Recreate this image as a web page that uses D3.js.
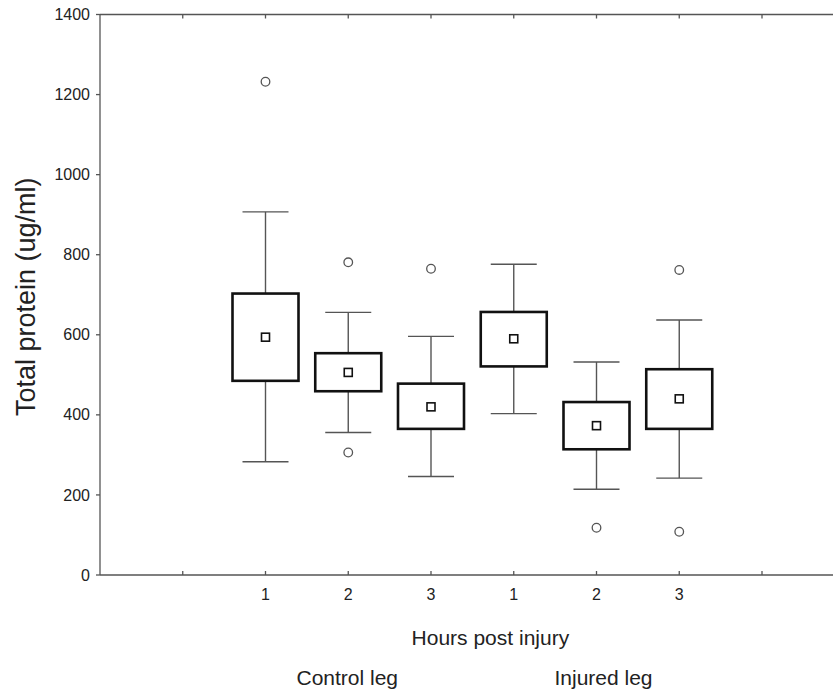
<!DOCTYPE html>
<html>
<head>
<meta charset="utf-8">
<script src="https://cdn.jsdelivr.net/npm/d3@7"></script>
<style>
body { margin: 0; background: #fff; }
svg { display: block; font-family: "Liberation Sans", Arial, sans-serif; }
</style>
</head>
<body>
<div id="graphDiv"></div>
<script>
// data
var hours = ["1", "2", "3", "1", "2", "3"];
var groups = ["Control leg", "Injured leg"];
var means = [594, 506, 420, 590, 373, 440];
var q1 = [485, 459, 365, 521, 314, 365];
var q3 = [703, 554, 478, 657, 432, 514];
var whiskLow = [283, 356, 246, 403, 214, 242];
var whiskHigh = [907, 656, 596, 776, 532, 637];
var outliers = [[1232], [781, 306], [765], [], [118], [762, 108]];
var yTicks = [0, 200, 400, 600, 800, 1000, 1200, 1400];

var W = 833, H = 694;
var plotLeft = 100, plotTop = 14.5, plotBottom = 575;

var svg = d3.select("#graphDiv")
  .append("svg")
  .attr("width", W)
  .attr("height", H);

// x: 9 slots, right frame edge falls past the image
var x = d3.scaleLinear().domain([0, 9]).range([plotLeft, plotLeft + 9 * 82.75]);
var y = d3.scaleLinear().domain([0, 1400]).range([plotBottom, plotTop]);

var axisColor = "#555";

// frame lines
svg.append("line").attr("x1", plotLeft).attr("x2", W).attr("y1", y(0)).attr("y2", y(0))
  .attr("stroke", axisColor).attr("stroke-width", 1.3);
svg.append("line").attr("x1", plotLeft).attr("x2", W).attr("y1", y(1400)).attr("y2", y(1400))
  .attr("stroke", axisColor).attr("stroke-width", 1.3);
svg.append("line").attr("x1", plotLeft).attr("x2", plotLeft).attr("y1", y(0)).attr("y2", y(1400))
  .attr("stroke", axisColor).attr("stroke-width", 1.3);

// y ticks (outward) and labels
svg.selectAll(".ytick").data(yTicks).enter().append("line")
  .attr("x1", plotLeft - 4).attr("x2", plotLeft)
  .attr("y1", function(d) { return y(d); }).attr("y2", function(d) { return y(d); })
  .attr("stroke", axisColor).attr("stroke-width", 1.3);
svg.selectAll(".ylab").data(yTicks).enter().append("text")
  .attr("x", plotLeft - 10).attr("y", function(d) { return y(d); })
  .attr("dy", "0.35em").attr("text-anchor", "end")
  .attr("font-size", 16).attr("fill", "#222")
  .text(function(d) { return d; });

// x ticks (inward) top and bottom
var xTicks = d3.range(1, 9);
svg.selectAll(".xtb").data(xTicks).enter().append("line")
  .attr("x1", function(d) { return x(d); }).attr("x2", function(d) { return x(d); })
  .attr("y1", y(0)).attr("y2", y(0) - 4)
  .attr("stroke", axisColor).attr("stroke-width", 1.3);
svg.selectAll(".xtt").data(xTicks).enter().append("line")
  .attr("x1", function(d) { return x(d); }).attr("x2", function(d) { return x(d); })
  .attr("y1", y(1400)).attr("y2", y(1400) + 4)
  .attr("stroke", axisColor).attr("stroke-width", 1.3);

svg.selectAll(".xlab").data(hours).enter().append("text")
  .attr("x", function(d, i) { return x(i + 2); }).attr("y", 600)
  .attr("text-anchor", "middle").attr("font-size", 16).attr("fill", "#222")
  .text(function(d) { return d; });

// boxes
var boxW = 66, capW = 46;
var g = svg.selectAll(".box").data(hours).enter().append("g");

g.append("line") // whisker
  .attr("x1", function(d, i) { return x(i + 2); }).attr("x2", function(d, i) { return x(i + 2); })
  .attr("y1", function(d, i) { return y(whiskLow[i]); }).attr("y2", function(d, i) { return y(whiskHigh[i]); })
  .attr("stroke", axisColor).attr("stroke-width", 1.4);
g.append("line")
  .attr("x1", function(d, i) { return x(i + 2) - capW / 2; }).attr("x2", function(d, i) { return x(i + 2) + capW / 2; })
  .attr("y1", function(d, i) { return y(whiskLow[i]); }).attr("y2", function(d, i) { return y(whiskLow[i]); })
  .attr("stroke", axisColor).attr("stroke-width", 1.4);
g.append("line")
  .attr("x1", function(d, i) { return x(i + 2) - capW / 2; }).attr("x2", function(d, i) { return x(i + 2) + capW / 2; })
  .attr("y1", function(d, i) { return y(whiskHigh[i]); }).attr("y2", function(d, i) { return y(whiskHigh[i]); })
  .attr("stroke", axisColor).attr("stroke-width", 1.4);

g.append("rect")
  .attr("x", function(d, i) { return x(i + 2) - boxW / 2; })
  .attr("width", boxW)
  .attr("y", function(d, i) { return y(q3[i]); })
  .attr("height", function(d, i) { return y(q1[i]) - y(q3[i]); })
  .attr("fill", "#fff").attr("stroke", "#111").attr("stroke-width", 2.6);

g.append("rect") // mean
  .attr("x", function(d, i) { return x(i + 2) - 4; })
  .attr("y", function(d, i) { return y(means[i]) - 4; })
  .attr("width", 8).attr("height", 8)
  .attr("fill", "#fff").attr("stroke", "#111").attr("stroke-width", 1.6);

g.each(function(d, i) {
  d3.select(this).selectAll("circle").data(outliers[i]).enter().append("circle")
    .attr("cx", x(i + 2)).attr("cy", function(v) { return y(v); })
    .attr("r", 4.3).attr("fill", "none")
    .attr("stroke", axisColor).attr("stroke-width", 1.3);
});

// titles
svg.append("text")
  .attr("transform", "translate(35," + ((y(0) + y(1400)) / 2 + 2) + ") rotate(-90)")
  .attr("text-anchor", "middle").attr("font-size", 27).attr("fill", "#222")
  .text("Total protein (ug/ml)");

svg.append("text")
  .attr("x", (x(4) + x(5)) / 2 + 18).attr("y", 645)
  .attr("text-anchor", "middle").attr("font-size", 21).attr("fill", "#222")
  .text("Hours post injury");

svg.selectAll(".grp").data(groups).enter().append("text")
  .attr("x", function(d, i) { return x(3 + i * 3) + (i ? 7 : -1); }).attr("y", 685)
  .attr("text-anchor", "middle").attr("font-size", 21).attr("fill", "#222")
  .text(function(d) { return d; });
</script>
</body>
</html>
